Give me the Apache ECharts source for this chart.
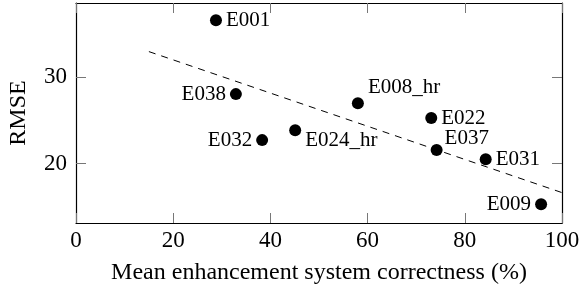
<!DOCTYPE html>
<html>
<head>
<meta charset="utf-8">
<script src="https://cdn.jsdelivr.net/npm/echarts@6/dist/echarts.min.js"></script>
<style>
html, body { margin: 0; padding: 0; background: #fff; }
#main { width: 580px; height: 289px; }
</style>
</head>
<body>
<div id="main"></div>
<script>
// systems
var names = ['E001', 'E038', 'E032', 'E024_hr', 'E008_hr', 'E022', 'E037', 'E031', 'E009'];
var correctness = [28.8, 32.9, 38.3, 45.1, 58.0, 73.1, 74.2, 84.3, 95.7];
var rmse = [36.5, 28.0, 22.7, 23.85, 26.95, 25.25, 21.55, 20.5, 15.3];
// where each label sits
var labelPos = ['right', 'left', 'left', 'right', 'right', 'right', 'right', 'right', 'left'];
var labelOff = [[0, 0], [0, 0], [0, 0], [0, 10], [0, -16], [0, 0], [-2, -12], [0, 0], [0, 0]];
// fitted trend line
var trendX = [15, 100];
var trendY = [32.9, 16.65];
var yTicks = [20, 30];

var serif = '"Liberation Serif", "DejaVu Serif", serif';

var pts = names.map(function (n, i) {
    return {
        name: n,
        value: [correctness[i], rmse[i]],
        label: { position: labelPos[i], offset: labelOff[i] }
    };
});

var frameLine = { show: true, onZero: false, lineStyle: { color: '#000', width: 1.2 } };
var tick = { show: true, inside: true, length: 10, lineStyle: { color: '#777' } };

var myChart = echarts.init(document.getElementById('main'));
option = {
    animation: false,
    grid: { left: 76, right: 18, top: 3, bottom: 66, outerBoundsMode: 'none' },
    xAxis: [{
        type: 'value',
        min: 0, max: 100, interval: 20,
        name: 'Mean enhancement system correctness (%)',
        nameLocation: 'middle',
        nameGap: 38,
        nameTextStyle: { fontFamily: serif, fontSize: 24, color: '#000' },
        axisLine: frameLine,
        axisTick: tick,
        axisLabel: { fontFamily: serif, fontSize: 23, color: '#000', margin: 6 },
        splitLine: { show: false }
    }, {
        type: 'value', position: 'top',
        min: 0, max: 100, interval: 20,
        axisLine: frameLine,
        axisTick: tick,
        axisLabel: { show: false },
        splitLine: { show: false }
    }],
    yAxis: [{
        type: 'value',
        min: 13.15, max: 38.5,
        name: 'RMSE',
        nameLocation: 'middle',
        nameGap: 45,
        nameTextStyle: { fontFamily: serif, fontSize: 24, color: '#000' },
        axisLine: frameLine,
        axisTick: { show: true, inside: true, length: 10, lineStyle: { color: '#777' }, customValues: yTicks },
        axisLabel: { fontFamily: serif, fontSize: 23, color: '#000', margin: 9, customValues: yTicks },
        splitLine: { show: false }
    }, {
        type: 'value', position: 'right',
        min: 13.15, max: 38.5,
        axisLine: frameLine,
        axisTick: { show: true, inside: true, length: 10, lineStyle: { color: '#777' }, customValues: yTicks },
        axisLabel: { show: false },
        splitLine: { show: false }
    }],
    series: [{
        type: 'line',
        data: trendX.map(function (x, i) { return [x, trendY[i]]; }),
        symbol: 'none',
        lineStyle: { color: '#000', width: 1, type: [7, 6] },
        z: 1
    }, {
        type: 'scatter',
        data: pts,
        symbolSize: 12,
        itemStyle: { color: '#000', opacity: 1 },
        label: {
            show: true,
            formatter: '{b}',
            fontFamily: serif,
            fontSize: 21,
            color: '#000',
            distance: 4
        },
        z: 3
    }]
};
myChart.setOption(option);
</script>
</body>
</html>
